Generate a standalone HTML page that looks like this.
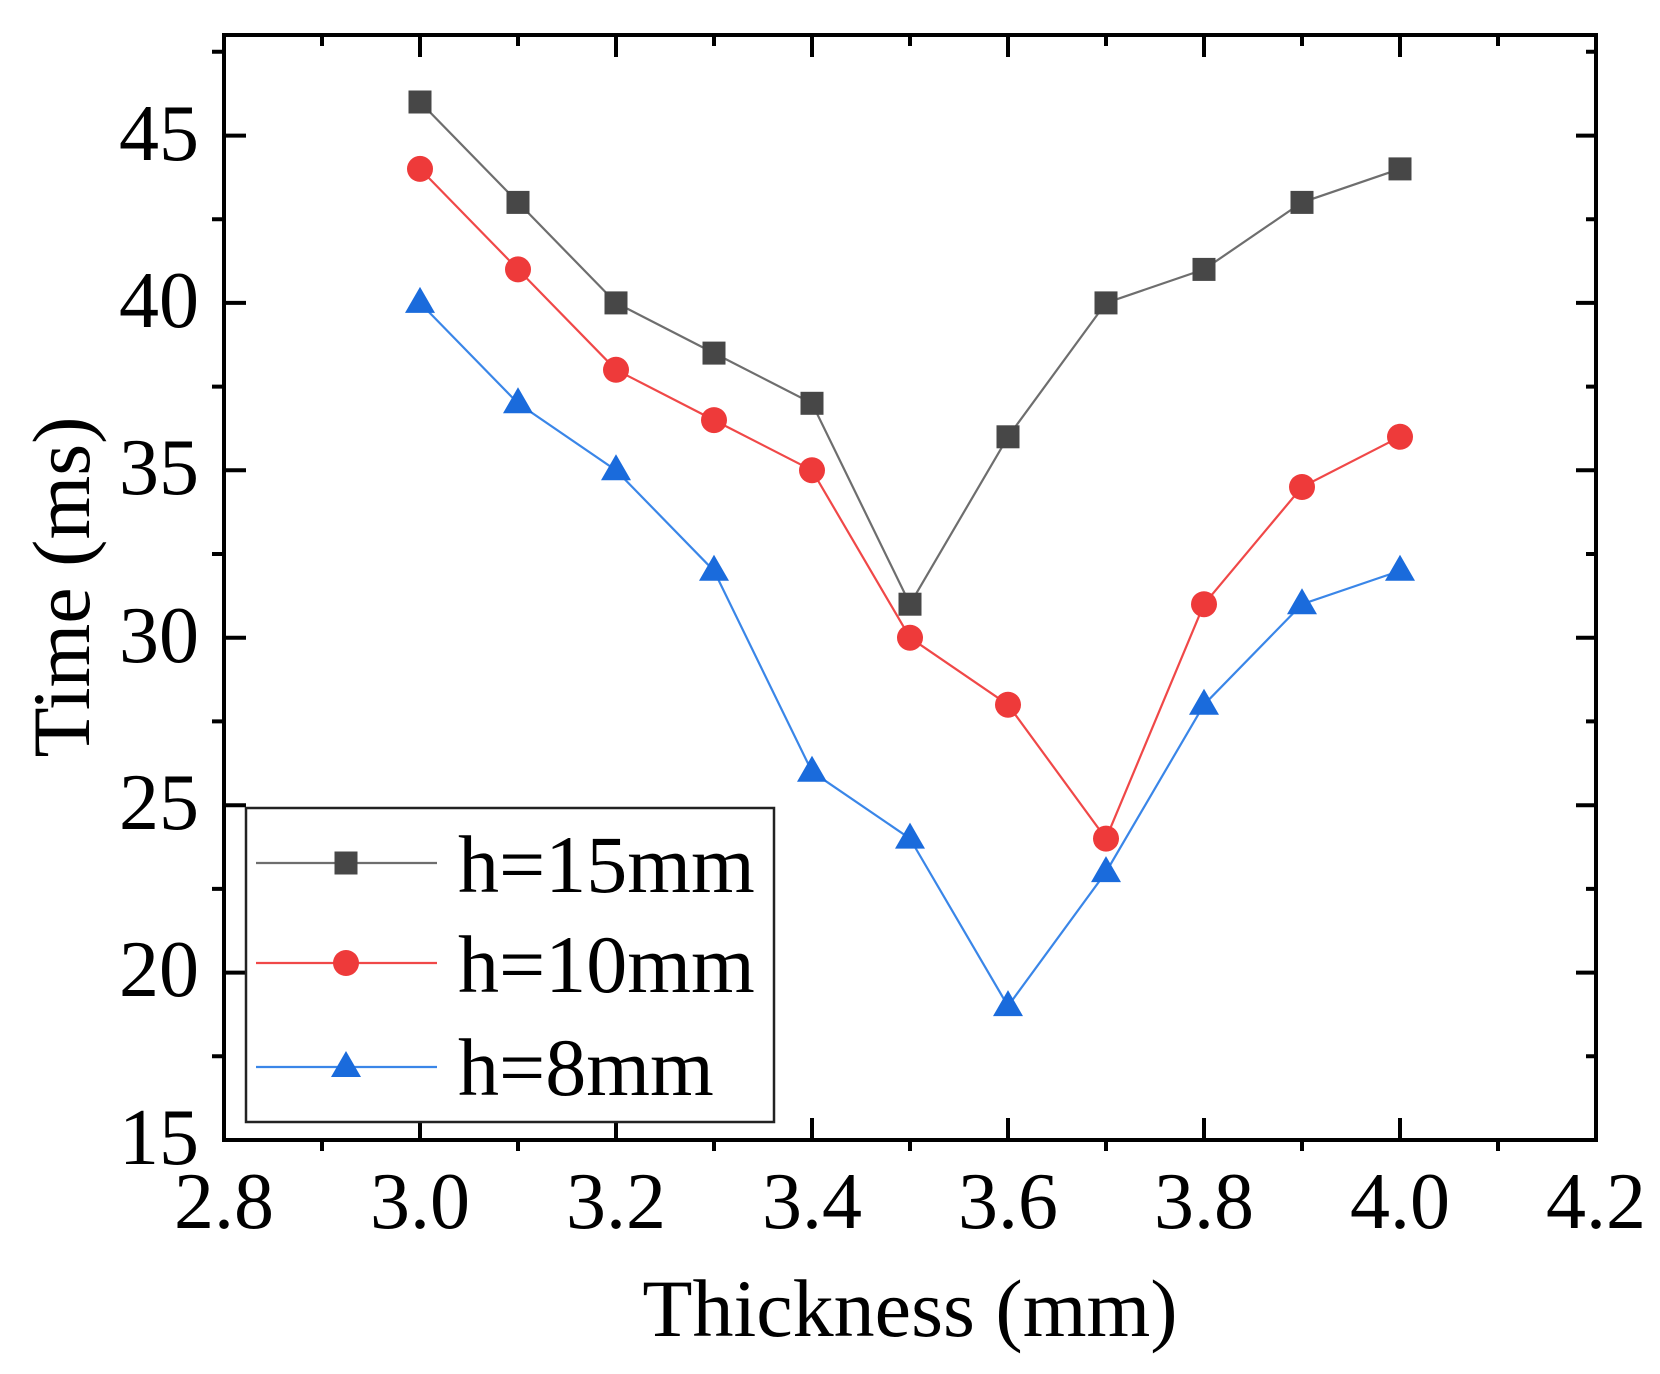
<!DOCTYPE html>
<html><head><meta charset="utf-8"><style>
html,body{margin:0;padding:0;background:#fff;}
svg{display:block;}
text{font-family:"Liberation Serif","Times New Roman",serif;fill:#000;}
</style></head><body>
<svg width="1660" height="1374" viewBox="0 0 1660 1374" xmlns="http://www.w3.org/2000/svg">
<rect width="1660" height="1374" fill="#fff"/>
<!-- ticks -->
<g stroke="#000" stroke-width="4" fill="none">
<path d="M420 1140V1118M616 1140V1118M812 1140V1118M1008 1140V1118M1204 1140V1118M1400 1140V1118
M420 35V57M616 35V57M812 35V57M1008 35V57M1204 35V57M1400 35V57"/>
<path d="M322 1140V1151M518 1140V1151M714 1140V1151M910 1140V1151M1106 1140V1151M1302 1140V1151M1498 1140V1151
M322 35V46M518 35V46M714 35V46M910 35V46M1106 35V46M1302 35V46M1498 35V46"/>
<path d="M224 135.6H246M224 302.9H246M224 470.3H246M224 637.7H246M224 805.2H246M224 972.6H246
M1596 135.6H1576M1596 302.9H1576M1596 470.3H1576M1596 637.7H1576M1596 805.2H1576M1596 972.6H1576"/>
<path d="M224 51.7H212M224 219.2H212M224 386.6H212M224 554H212M224 721.4H212M224 888.9H212M224 1056.3H212
M1596 51.7H1586M1596 219.2H1586M1596 386.6H1586M1596 554H1586M1596 721.4H1586M1596 888.9H1586M1596 1056.3H1586"/>
</g>
<rect x="224" y="35" width="1372" height="1105" fill="none" stroke="#000" stroke-width="4"/>

<!-- tick labels -->
<g font-size="80" text-anchor="middle">
<text x="224" y="1228">2.8</text>
<text x="420" y="1228">3.0</text>
<text x="616" y="1228">3.2</text>
<text x="812" y="1228">3.4</text>
<text x="1008" y="1228">3.6</text>
<text x="1204" y="1228">3.8</text>
<text x="1400" y="1228">4.0</text>
<text x="1596" y="1228">4.2</text>
</g>
<g font-size="80" text-anchor="end">
<text x="199" y="160">45</text>
<text x="199" y="327">40</text>
<text x="199" y="494">35</text>
<text x="199" y="662">30</text>
<text x="199" y="829">25</text>
<text x="199" y="996">20</text>
<text x="199" y="1164">15</text>
</g>
<text x="910" y="1336" font-size="82" text-anchor="middle">Thickness (mm)</text>
<text transform="translate(89,587) rotate(-90)" font-size="82" text-anchor="middle">Time (ms)</text>

<!-- series h=15 -->
<polyline fill="none" stroke="#6e6e6e" stroke-width="2.2" points="420,102 518,202.4 616,302.9 714,353.1 812,403.3 910,604.2 1008,436.8 1106,302.9 1204,269.4 1302,202.4 1400,168.9"/>
<g fill="#474747">
<rect x="408.5" y="90.5" width="23" height="23"/>
<rect x="506.5" y="190.9" width="23" height="23"/>
<rect x="604.5" y="291.4" width="23" height="23"/>
<rect x="702.5" y="341.6" width="23" height="23"/>
<rect x="800.5" y="391.8" width="23" height="23"/>
<rect x="898.5" y="592.7" width="23" height="23"/>
<rect x="996.5" y="425.3" width="23" height="23"/>
<rect x="1094.5" y="291.4" width="23" height="23"/>
<rect x="1192.5" y="257.9" width="23" height="23"/>
<rect x="1290.5" y="190.9" width="23" height="23"/>
<rect x="1388.5" y="157.4" width="23" height="23"/>
</g>

<!-- series h=10 -->
<polyline fill="none" stroke="#f04848" stroke-width="2.2" points="420,168.9 518,269.4 616,369.8 714,420.1 812,470.3 910,637.7 1008,704.7 1106,838.6 1204,604.2 1302,487 1400,436.8"/>
<g fill="#ee3a3a">
<circle cx="420" cy="168.9" r="13"/>
<circle cx="518" cy="269.4" r="13"/>
<circle cx="616" cy="369.8" r="13"/>
<circle cx="714" cy="420.1" r="13"/>
<circle cx="812" cy="470.3" r="13"/>
<circle cx="910" cy="637.7" r="13"/>
<circle cx="1008" cy="704.7" r="13"/>
<circle cx="1106" cy="838.6" r="13"/>
<circle cx="1204" cy="604.2" r="13"/>
<circle cx="1302" cy="487" r="13"/>
<circle cx="1400" cy="436.8" r="13"/>
</g>

<!-- series h=8 -->
<polyline fill="none" stroke="#3a86e8" stroke-width="2.2" points="420,302.9 518,403.3 616,470.3 714,570.8 812,771.7 910,838.6 1008,1006.1 1106,872.1 1204,704.7 1302,604.2 1400,570.8"/>
<g fill="#1a6bdc">
<path d="M420 286.9L435 312.9H405Z"/>
<path d="M518 387.3L533 413.3H503Z"/>
<path d="M616 454.3L631 480.3H601Z"/>
<path d="M714 554.8L729 580.8H699Z"/>
<path d="M812 755.7L827 781.7H797Z"/>
<path d="M910 822.6L925 848.6H895Z"/>
<path d="M1008 990.1L1023 1016.1H993Z"/>
<path d="M1106 856.1L1121 882.1H1091Z"/>
<path d="M1204 688.7L1219 714.7H1189Z"/>
<path d="M1302 588.2L1317 614.2H1287Z"/>
<path d="M1400 554.8L1415 580.8H1385Z"/>
</g>

<!-- legend -->
<rect x="246" y="808" width="528" height="314" fill="#fff" stroke="#222" stroke-width="2.5"/>
<line x1="256" y1="863" x2="437" y2="863" stroke="#6e6e6e" stroke-width="2.2"/>
<rect x="334.5" y="851.5" width="23" height="23" fill="#474747"/>
<line x1="256" y1="963" x2="437" y2="963" stroke="#f04848" stroke-width="2.2"/>
<circle cx="346" cy="963" r="13" fill="#ee3a3a"/>
<line x1="256" y1="1067" x2="437" y2="1067" stroke="#3a86e8" stroke-width="2.2"/>
<path d="M346 1051L361 1077H331Z" fill="#1a6bdc"/>
<g font-size="82">
<text x="458" y="892">h=15mm</text>
<text x="458" y="992">h=10mm</text>
<text x="458" y="1095">h=8mm</text>
</g>
</svg>
</body></html>
